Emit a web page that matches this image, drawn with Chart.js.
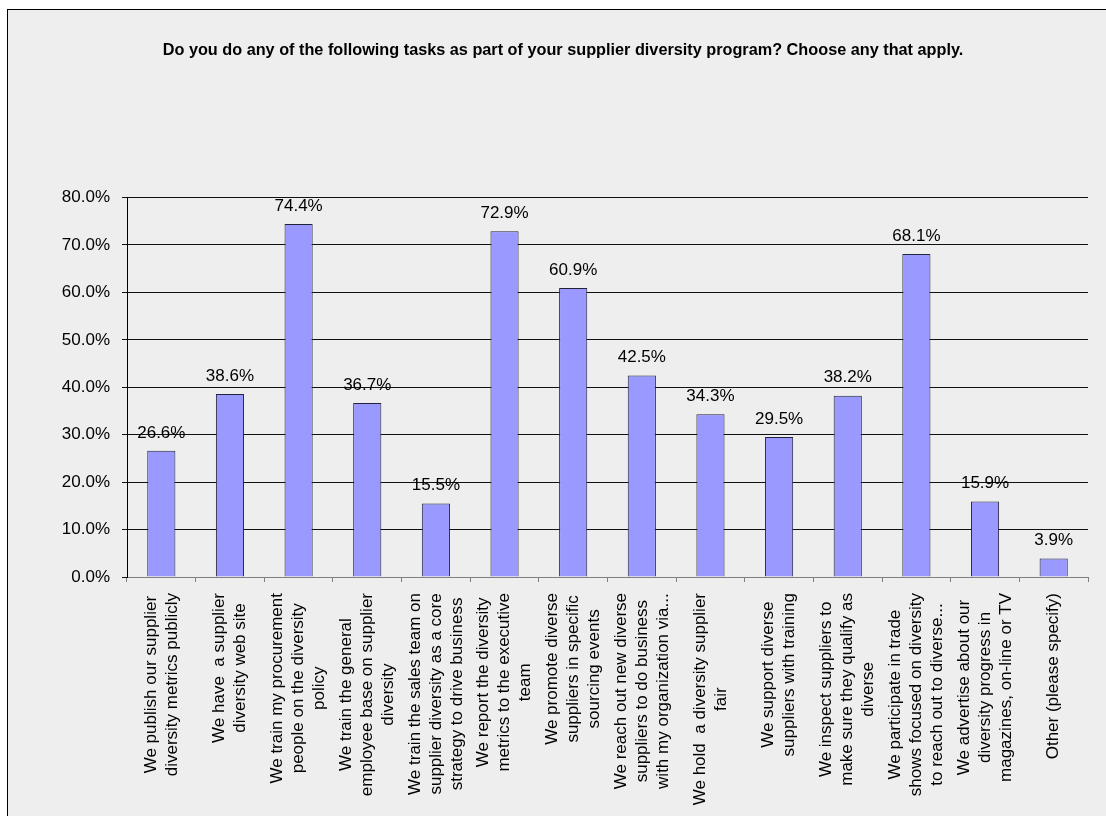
<!DOCTYPE html>
<html>
<head>
<meta charset="utf-8">
<script src="https://cdn.jsdelivr.net/npm/chart.js@4.4.1/dist/chart.umd.min.js"></script>
<style>
  html, body { margin: 0; padding: 0; background: #ffffff; overflow: hidden; width: 1106px; height: 816px; }
  #frame { position: absolute; left: 7px; top: 9px; width: 1110px; height: 806px; border-left: 1px solid #000; border-top: 1px solid #000; background: #EEEEEE; }
  #c { display: block; }
</style>
</head>
<body>
<div id="frame"><canvas id="c" width="1110" height="806"></canvas></div>
<script>
const titleText = "Do you do any of the following tasks as part of your supplier diversity program? Choose any that apply.";
const categories = [
  ["We publish our supplier", "diversity metrics publicly"],
  ["We have  a supplier", "diversity web site"],
  ["We train my procurement", "people on the diversity", "policy"],
  ["We train the general", "employee base on supplier", "diversity"],
  ["We train the sales team on", "supplier diversity as a core", "strategy to drive business"],
  ["We report the diversity", "metrics to the executive", "team"],
  ["We promote diverse", "suppliers in specific", "sourcing events"],
  ["We reach out new diverse", "suppliers to do business", "with my organization via..."],
  ["We hold  a diversity supplier", "fair"],
  ["We support diverse", "suppliers with training"],
  ["We inspect suppliers to", "make sure they qualify as", "diverse"],
  ["We participate in trade", "shows focused on diversity", "to reach out to diverse..."],
  ["We advertise about our", "diversity progress in", "magazines, on-line or TV"],
  ["Other (please specify)"]
];
const percentValues = [26.6, 38.6, 74.4, 36.7, 15.5, 72.9, 60.9, 42.5, 34.3, 29.5, 38.2, 68.1, 15.9, 3.9];
const yTickMin = 0, yTickMax = 80, yTickStep = 10;

const FONT = '"Liberation Sans", Arial, sans-serif';

const dataLabelPlugin = {
  id: 'dataLabels',
  afterDatasetsDraw(chart) {
    const ctx = chart.ctx;
    const meta = chart.getDatasetMeta(0);
    ctx.save();
    ctx.font = '17px ' + FONT;
    ctx.fillStyle = '#000';
    ctx.textAlign = 'center';
    ctx.textBaseline = 'middle';
    meta.data.forEach((bar, i) => {
      ctx.fillText(percentValues[i].toFixed(1) + '%', bar.x, bar.y - 18);
    });
    ctx.restore();
  }
};

const xLabelPlugin = {
  id: 'xLabels',
  afterDraw(chart) {
    const ctx = chart.ctx;
    const xs = chart.scales.x;
    const top = chart.chartArea.bottom + 16;
    const lh = 21;
    ctx.save();
    ctx.font = '17px ' + FONT;
    ctx.fillStyle = '#000';
    ctx.textAlign = 'center';
    ctx.textBaseline = 'middle';
    categories.forEach((lines, i) => {
      const x = xs.getPixelForValue(i);
      const maxW = Math.max(...lines.map(l => ctx.measureText(l).width));
      ctx.save();
      ctx.translate(x, top + maxW / 2);
      ctx.rotate(-Math.PI / 2);
      lines.forEach((l, j) => {
        ctx.fillText(l, 0, (j - (lines.length - 1) / 2) * lh);
      });
      ctx.restore();
    });
    ctx.restore();
  }
};

new Chart(document.getElementById('c'), {
  type: 'bar',
  data: {
    labels: categories,
    datasets: [{
      data: percentValues,
      backgroundColor: '#9999FF',
      borderColor: '#22223a',
      borderWidth: 1,
      categoryPercentage: 1.0,
      barPercentage: 0.41
    }]
  },
  options: {
    responsive: false,
    animation: false,
    layout: { padding: { left: 30, right: 30, top: 0, bottom: 0 } },
    plugins: {
      legend: { display: false },
      tooltip: { enabled: false },
      title: {
        display: true,
        text: titleText,
        color: '#000',
        font: { family: FONT, size: 16.25, weight: 'bold' },
        padding: { top: 31, bottom: 137 }
      }
    },
    scales: {
      x: {
        offset: true,
        grid: { offset: true, drawOnChartArea: false, drawTicks: true, tickLength: 5, color: '#808080' },
        border: { color: '#808080', width: 1 },
        ticks: { display: false },
        afterFit(scale) { scale.height = 239; }
      },
      y: {
        min: yTickMin, max: yTickMax,
        ticks: {
          stepSize: yTickStep,
          color: '#000',
          padding: 12,
          font: { family: FONT, size: 17 },
          callback: v => v.toFixed(1) + '%'
        },
        grid: { color: '#111', tickLength: 5, lineWidth: 1 },
        border: { color: '#000', width: 1 },
        afterFit(scale) { scale.width = 89; }
      }
    }
  },
  plugins: [dataLabelPlugin, xLabelPlugin]
});
</script>
</body>
</html>
